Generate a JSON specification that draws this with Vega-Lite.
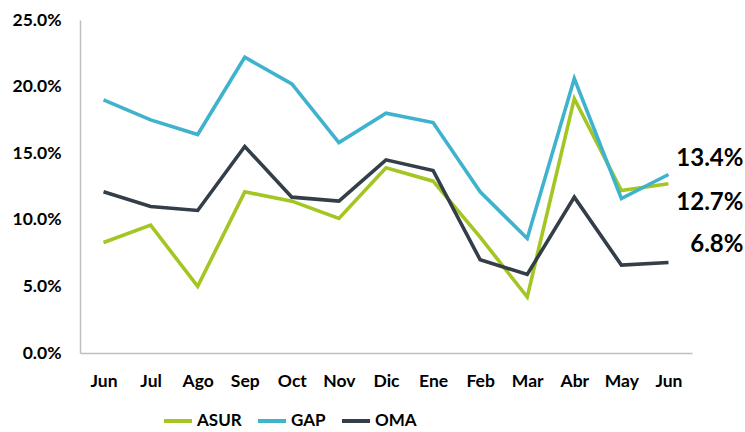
{
  "$schema": "https://vega.github.io/schema/vega-lite/v6.json",
  "width": 612,
  "height": 333,
  "autosize": {"type": "none"},
  "padding": {"left": 80, "top": 20, "right": 53, "bottom": 79},
  "background": "white",
  "config": {
    "view": {"stroke": null},
    "font": "Lato",
    "axis": {"labelFont": "Lato", "labelFontWeight": "bold", "labelFontSize": 17.5, "labelColor": "#000000"},
    "legend": {"labelFont": "Lato", "labelFontWeight": "bold", "labelFontSize": 17, "labelColor": "#000000"}
  },
  "data": {
    "values": [
      {"p": "Jun15", "empresa": "ASUR", "v": 0.083},
      {"p": "Jul15", "empresa": "ASUR", "v": 0.096},
      {"p": "Ago15", "empresa": "ASUR", "v": 0.050},
      {"p": "Sep15", "empresa": "ASUR", "v": 0.121},
      {"p": "Oct15", "empresa": "ASUR", "v": 0.114},
      {"p": "Nov15", "empresa": "ASUR", "v": 0.101},
      {"p": "Dic15", "empresa": "ASUR", "v": 0.139},
      {"p": "Ene16", "empresa": "ASUR", "v": 0.129},
      {"p": "Feb16", "empresa": "ASUR", "v": 0.087},
      {"p": "Mar16", "empresa": "ASUR", "v": 0.042},
      {"p": "Abr16", "empresa": "ASUR", "v": 0.191},
      {"p": "May16", "empresa": "ASUR", "v": 0.122},
      {"p": "Jun16", "empresa": "ASUR", "v": 0.127},
      {"p": "Jun15", "empresa": "GAP", "v": 0.190},
      {"p": "Jul15", "empresa": "GAP", "v": 0.175},
      {"p": "Ago15", "empresa": "GAP", "v": 0.164},
      {"p": "Sep15", "empresa": "GAP", "v": 0.222},
      {"p": "Oct15", "empresa": "GAP", "v": 0.202},
      {"p": "Nov15", "empresa": "GAP", "v": 0.158},
      {"p": "Dic15", "empresa": "GAP", "v": 0.180},
      {"p": "Ene16", "empresa": "GAP", "v": 0.173},
      {"p": "Feb16", "empresa": "GAP", "v": 0.121},
      {"p": "Mar16", "empresa": "GAP", "v": 0.086},
      {"p": "Abr16", "empresa": "GAP", "v": 0.206},
      {"p": "May16", "empresa": "GAP", "v": 0.116},
      {"p": "Jun16", "empresa": "GAP", "v": 0.134},
      {"p": "Jun15", "empresa": "OMA", "v": 0.121},
      {"p": "Jul15", "empresa": "OMA", "v": 0.110},
      {"p": "Ago15", "empresa": "OMA", "v": 0.107},
      {"p": "Sep15", "empresa": "OMA", "v": 0.155},
      {"p": "Oct15", "empresa": "OMA", "v": 0.117},
      {"p": "Nov15", "empresa": "OMA", "v": 0.114},
      {"p": "Dic15", "empresa": "OMA", "v": 0.145},
      {"p": "Ene16", "empresa": "OMA", "v": 0.137},
      {"p": "Feb16", "empresa": "OMA", "v": 0.070},
      {"p": "Mar16", "empresa": "OMA", "v": 0.059},
      {"p": "Abr16", "empresa": "OMA", "v": 0.117},
      {"p": "May16", "empresa": "OMA", "v": 0.066},
      {"p": "Jun16", "empresa": "OMA", "v": 0.068}
    ]
  },
  "encoding": {
    "x": {
      "field": "p", "type": "ordinal", "sort": null,
      "scale": {"type": "point", "padding": 0.5},
      "axis": {"title": null, "labelAngle": 0, "ticks": false, "domainColor": "#bfbfbf", "domainWidth": 1.5, "labelPadding": 19, "labelExpr": "slice(datum.value, 0, 3)"}
    },
    "y": {
      "field": "v", "type": "quantitative",
      "scale": {"domain": [0, 0.25], "nice": false},
      "axis": {"title": null, "format": ".1%", "values": [0, 0.05, 0.1, 0.15, 0.2, 0.25], "grid": false, "ticks": false, "domainColor": "#bfbfbf", "domainWidth": 1.5, "labelPadding": 19}
    }
  },
  "layer": [
    {
      "mark": {"type": "line", "strokeWidth": 3.6, "strokeJoin": "miter"},
      "encoding": {
        "color": {
          "field": "empresa", "type": "nominal",
          "scale": {"domain": ["ASUR", "GAP", "OMA"], "range": ["#a3c623", "#3fb3cd", "#333e48"]},
          "legend": {"title": null, "orient": "none", "direction": "horizontal", "legendX": 82, "legendY": 385, "padding": 0, "symbolType": "stroke", "symbolStrokeWidth": 4, "symbolSize": 784, "labelOffset": 3, "columnPadding": 8}
        }
      }
    },
    {
      "transform": [{"filter": "datum.p == 'Jun16' && datum.empresa == 'GAP'"}],
      "mark": {"type": "text", "align": "right", "baseline": "middle", "dx": 75, "dy": -16, "fontSize": 24, "fontWeight": "bold", "color": "#000000"},
      "encoding": {"text": {"field": "v", "format": ".1%"}}
    },
    {
      "transform": [{"filter": "datum.p == 'Jun16' && datum.empresa == 'ASUR'"}],
      "mark": {"type": "text", "align": "right", "baseline": "middle", "dx": 75, "dy": 19, "fontSize": 24, "fontWeight": "bold", "color": "#000000"},
      "encoding": {"text": {"field": "v", "format": ".1%"}}
    },
    {
      "transform": [{"filter": "datum.p == 'Jun16' && datum.empresa == 'OMA'"}],
      "mark": {"type": "text", "align": "right", "baseline": "middle", "dx": 75, "dy": -17, "fontSize": 24, "fontWeight": "bold", "color": "#000000"},
      "encoding": {"text": {"field": "v", "format": ".1%"}}
    }
  ]
}
